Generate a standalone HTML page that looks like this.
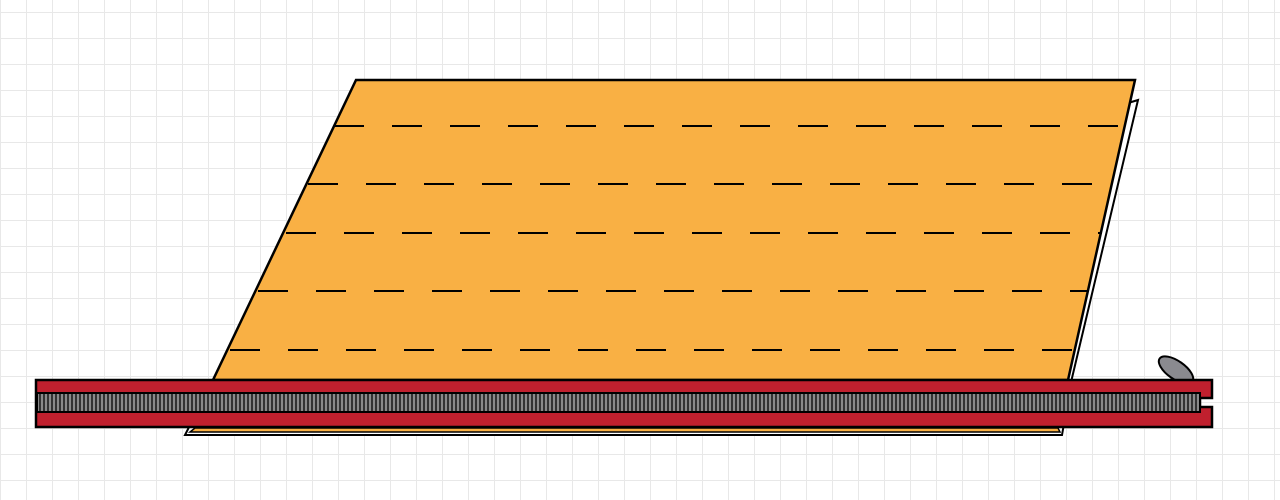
<!DOCTYPE html>
<html><head><style>
body{margin:0;width:1280px;height:500px;overflow:hidden;background:#fff;
background-image:linear-gradient(#e8e8e8 1px,transparent 1px),linear-gradient(90deg,#e8e8e8 1px,transparent 1px);
background-size:26px 26px;background-position:0 12px;}
</style></head><body>
<svg width="1280" height="500" style="position:absolute;left:0;top:0">
<defs>
<pattern id="t" width="4" height="20" patternUnits="userSpaceOnUse">
<rect width="4" height="20" fill="#333"/><rect x="1" width="2" height="20" fill="#8a8a8a"/>
</pattern>
</defs>
<polygon points="1138,100 1072,378 1062,435 185,435 213,380" fill="#fff" stroke="#000" stroke-width="2"/>
<polygon points="190,432 1060,432 1058,428 195,428" fill="#f9b044" stroke="#000" stroke-width="1.5"/>
<polygon points="356,80 1135,80 1068,380 213,380" fill="#f9b044" stroke="#000" stroke-width="2.5"/>
<g stroke="#000" stroke-width="2" stroke-dasharray="30,28">
<line x1="334" y1="126" x2="1126" y2="126"/>
<line x1="308" y1="184" x2="1113" y2="184"/>
<line x1="286" y1="233" x2="1102" y2="233"/>
<line x1="258" y1="291" x2="1089" y2="291"/>
<line x1="230" y1="350" x2="1076" y2="350"/>
</g>
<ellipse cx="1176" cy="370" rx="20" ry="9" transform="rotate(35 1176 370)" fill="#8a8a8f" stroke="#000" stroke-width="2"/>
<path d="M36,380 H1212 V398 H1200 V407 H1212 V427 H36 Z" fill="#c0202e" stroke="#000" stroke-width="2.5"/>
<rect x="37" y="393" width="1163" height="19" fill="url(#t)" stroke="#000" stroke-width="2"/>
</svg>
</body></html>
